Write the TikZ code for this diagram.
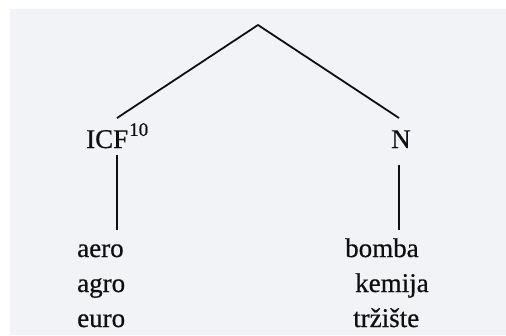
\documentclass[tikz,border=0pt]{standalone}
\usepackage{fontspec}
\setmainfont{Liberation Serif}[FakeBold=0.6]
\definecolor{bgpaper}{rgb}{0.945,0.953,0.965}
\definecolor{ink}{rgb}{0.06,0.06,0.06}
\begin{document}
\begin{tikzpicture}[x=1pt,y=-1pt,
  treeline/.style={draw=ink,line width=1.8pt},
  lbl/.style={inner sep=0pt,anchor=base west,text=ink,font=\fontsize{27}{30}\selectfont}]
\useasboundingbox (0,0) rectangle (506,335);
\fill[white] (0,0) rectangle (506,335);
\fill[bgpaper] (10,9) rectangle (506,335);
% apex and branch points
\coordinate (apex) at (258,25);
\coordinate (lend) at (117,118);
\coordinate (rend) at (399,118);
% category labels
\node[lbl] (icf) at (86,148) {ICF\kern1pt\raisebox{0.45em}{\fontsize{19}{19}\selectfont 10}};
\node[lbl] (n) at (391,148) {N};
% leaf tops
\coordinate (lv1) at (117,155);
\coordinate (lv2) at (117,230);
\coordinate (rv1) at (399,165);
\coordinate (rv2) at (399,230);
% leaf words
\node[lbl] (aero) at (77,257) {aero};
\node[lbl] (agro) at (77,292) {agro};
\node[lbl] (euro) at (77,327) {euro};
\node[lbl] (bomba) at (345,257) {bomba};
\node[lbl] (kemija) at (355,292) {kemija};
\node[lbl] (trziste) at (353,327) {tržište};
% connectors
\draw[treeline] (lend) -- (apex) -- (rend);
\draw[treeline] (lv1) -- (lv2);
\draw[treeline] (rv1) -- (rv2);
\end{tikzpicture}
\end{document}
